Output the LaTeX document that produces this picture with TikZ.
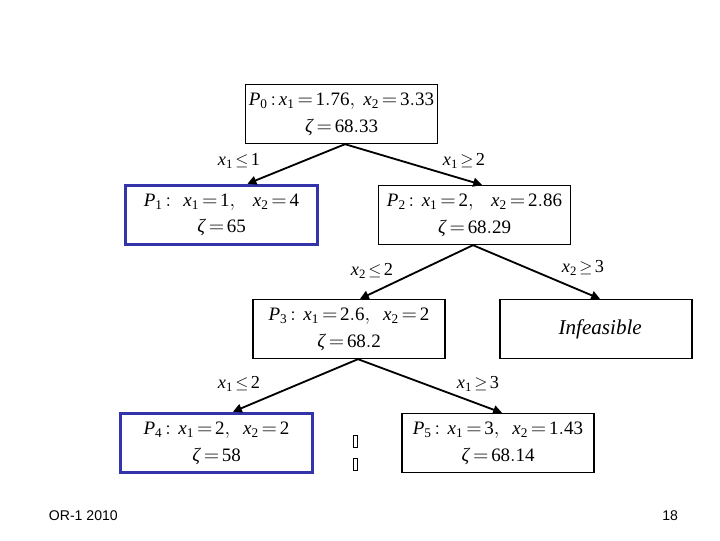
\documentclass[tikz,border=0pt]{standalone}
\usepackage{amsmath,amssymb}
\usepackage{mathspec}
\setmainfont{Liberation Serif}
\setmathsfont(Digits,Latin,Greek){Liberation Serif}
\newfontfamily\footfont{Liberation Sans}
\usepackage{tikz}
\usetikzlibrary{arrows.meta,positioning}
\definecolor{bestblue}{RGB}{51,51,170}
\thickmuskip=2.5mu plus 1mu
\medmuskip=2mu

\begin{document}
\begin{tikzpicture}[x=0.025cm,y=-0.025cm,>={Triangle[length=2.2mm,width=2.2mm]},
    sub/.style={draw,line width=0.8pt,minimum width=4.8cm,minimum height=1.48cm,align=center,
      font=\fontsize{13.5}{19}\selectfont,inner sep=0pt},
    best/.style={sub,draw=bestblue,line width=2.4pt},
    branch/.style={->,line width=1.3pt},
    cut/.style={font=\fontsize{13}{16}\selectfont}]
  \useasboundingbox (0,0) rectangle (720,540);
  % subproblems
  \node[sub] (p0) at (341.5,114) {$P_0 : x_1 = 1.76,\ x_2 = 3.33$\\$\zeta = 68.33$};
  \node[best] (p1) at (221.5,215) {$P_1 :\ \ x_1 = 1,\ \ \ x_2 = 4$\\$\zeta = 65$};
  \node[sub] (p2) at (474.5,215) {$P_2 :\ x_1 = 2,\ \ \ x_2 = 2.86$\\$\zeta = 68.29$};
  \node[sub] (p3) at (349,329) {$P_3 :\ x_1 = 2.6,\ \ x_2 = 2$\\$\zeta = 68.2$};
  \node[sub,font=\fontsize{15}{19}\selectfont\itshape] (inf) at (596,329) {\hspace*{6pt}Infeasible};
  \node[best] (p4) at (216.5,443) {$P_4 :\ x_1 = 2,\ \ x_2 = 2$\\$\zeta = 58$};
  \node[sub] (p5) at (498,443) {$P_5 :\ x_1 = 3,\ \ x_2 = 1.43$\\$\zeta = 68.14$};
  % branches
  \coordinate (b0) at ([xshift=3.5*0.025cm]p0.south);
  \coordinate (b2) at ([xshift=-1.5*0.025cm]p2.south);
  \coordinate (b3) at ([xshift=9*0.025cm]p3.south);
  \draw[branch] (b0) -- ([xshift=26*0.025cm]p1.north);
  \draw[branch] (b0) -- ([xshift=7.5*0.025cm]p2.north);
  \draw[branch] (b2) -- ([xshift=11*0.025cm]p3.north);
  \draw[branch] (b2) -- ([xshift=4*0.025cm]inf.north);
  \draw[branch] (b3) -- ([xshift=16.5*0.025cm]p4.north);
  \draw[branch] (b3) -- ([xshift=4*0.025cm]p5.north);
  \node[cut] (c1) at (239,161) {$x_1 \leq 1$};
  \node[cut] (c2) at (464,161) {$x_1 \geq 2$};
  \node[cut] (c3) at (372,271) {$x_2 \leq 2$};
  \node[cut] (c4) at (583,268) {$x_2 \geq 3$};
  \node[cut] (c5) at (239,384) {$x_1 \leq 2$};
  \node[cut] (c6) at (478,384) {$x_1 \geq 3$};
  % missing glyphs
  \draw[line width=0.4pt] (353,435) rectangle (357,447);
  \draw[line width=0.4pt] (353,458) rectangle (357,470);
  % footer
  \node[font=\footfont\fontsize{10}{12}\selectfont,anchor=west] (foot) at (44,516) {OR-1 2010};
  \node[font=\footfont\fontsize{10}{12}\selectfont,anchor=east] (page) at (683,516) {18};
\end{tikzpicture}
\end{document}
